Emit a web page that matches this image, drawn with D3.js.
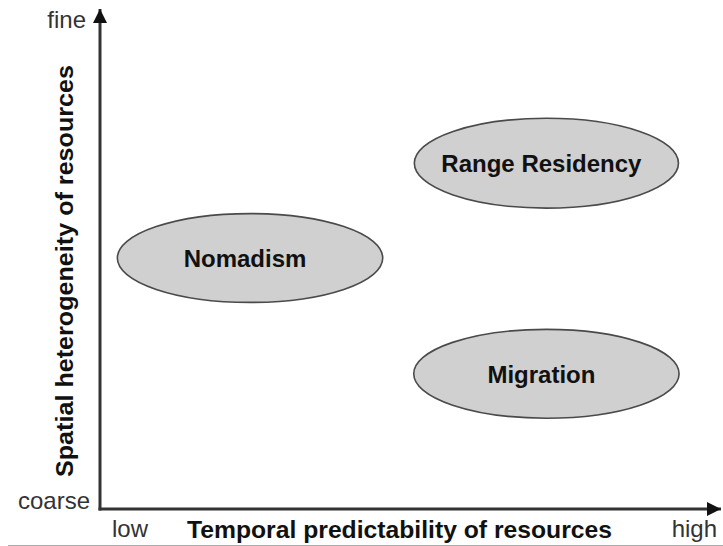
<!DOCTYPE html>
<html>
<head>
<meta charset="utf-8">
<script src="https://cdn.jsdelivr.net/npm/d3@7/dist/d3.min.js"></script>
<style>
  html, body { margin: 0; padding: 0; background: #fff; }
  svg { display: block; }
  text { font-family: "Liberation Sans", Arial, sans-serif; }
</style>
</head>
<body>
<svg id="chart" width="723" height="546"></svg>
<script>
// Strategies placed in the (temporal predictability, spatial heterogeneity) plane, 0-10 scale
const strategies = ["Nomadism", "Range Residency", "Migration"];
const predictability = [2.42, 7.2, 7.2];      // x centre
const heterogeneity = [5.03, 6.93, 2.71];     // y centre
const predictabilitySpread = [2.14, 2.13, 2.14]; // half-extent along x
const heterogeneitySpread = [0.89, 0.9, 0.89];   // half-extent along y

const xTickLabels = ["low", "high"];
const yTickLabels = ["coarse", "fine"];
const xTitle = "Temporal predictability of resources";
const yTitle = "Spatial heterogeneity of resources";

const svg = d3.select("#chart");
const W = 723, H = 546;

const x = d3.scaleLinear().domain([0, 10]).range([100, 720]);
const y = d3.scaleLinear().domain([0, 10]).range([509, 10]);

const data = strategies.map((s, i) => ({
  name: s,
  cx: predictability[i],
  cy: heterogeneity[i],
  sx: predictabilitySpread[i],
  sy: heterogeneitySpread[i]
}));

// image bottom border line
svg.append("line")
  .attr("x1", 8).attr("x2", W).attr("y1", 545.5).attr("y2", 545.5)
  .attr("stroke", "#aaa").attr("stroke-width", 1);

// arrow markers
const defs = svg.append("defs");
defs.append("marker")
  .attr("id", "arrow")
  .attr("viewBox", "0 0 10 10")
  .attr("refX", 10).attr("refY", 5)
  .attr("markerWidth", 15).attr("markerHeight", 14)
  .attr("markerUnits", "userSpaceOnUse")
  .attr("orient", "auto")
  .append("path")
  .attr("d", "M0,0 L10,5 L0,10 Z")
  .attr("fill", "#111");

// axes
svg.append("line")
  .attr("x1", x(0)).attr("x2", x(0))
  .attr("y1", y(0) + 1.5).attr("y2", y(10) - 1)
  .attr("stroke", "#333").attr("stroke-width", 3)
  .attr("marker-end", "url(#arrow)");
svg.append("line")
  .attr("x1", x(0) - 1.5).attr("x2", x(10) + 1)
  .attr("y1", y(0)).attr("y2", y(0))
  .attr("stroke", "#333").attr("stroke-width", 3)
  .attr("marker-end", "url(#arrow)");

// ellipses
const g = svg.append("g");
g.selectAll("ellipse")
  .data(data)
  .join("ellipse")
  .attr("cx", d => x(d.cx))
  .attr("cy", d => y(d.cy))
  .attr("rx", d => x(d.sx) - x(0))
  .attr("ry", d => y(0) - y(d.sy))
  .attr("fill", "#d0d0d0")
  .attr("stroke", "#4a4a4a")
  .attr("stroke-width", 1.6);

g.selectAll("text")
  .data(data)
  .join("text")
  .attr("x", d => x(d.cx) - 5)
  .attr("y", d => y(d.cy) + 9)
  .attr("text-anchor", "middle")
  .attr("font-size", 24)
  .attr("font-weight", "bold")
  .attr("fill", "#111")
  .text(d => d.name);

// tick labels
svg.append("text")
  .attr("x", 112).attr("y", 537)
  .attr("font-size", 24).attr("fill", "#333")
  .text(xTickLabels[0]);
svg.append("text")
  .attr("x", 717).attr("y", 537)
  .attr("text-anchor", "end")
  .attr("font-size", 24).attr("fill", "#333")
  .text(xTickLabels[1]);
svg.append("text")
  .attr("x", 90).attr("y", 509)
  .attr("text-anchor", "end")
  .attr("font-size", 24).attr("fill", "#333")
  .text(yTickLabels[0]);
svg.append("text")
  .attr("x", 86).attr("y", 28)
  .attr("text-anchor", "end")
  .attr("font-size", 24).attr("fill", "#333")
  .text(yTickLabels[1]);

// axis titles
svg.append("text")
  .attr("x", 187).attr("y", 538)
  .attr("textLength", 425).attr("lengthAdjust", "spacingAndGlyphs")
  .attr("font-size", 24).attr("font-weight", "bold").attr("fill", "#111")
  .text(xTitle);
svg.append("text")
  .attr("transform", "translate(73,477) rotate(-90)")
  .attr("textLength", 412).attr("lengthAdjust", "spacingAndGlyphs")
  .attr("font-size", 24).attr("font-weight", "bold").attr("fill", "#111")
  .text(yTitle);
</script>
</body>
</html>
